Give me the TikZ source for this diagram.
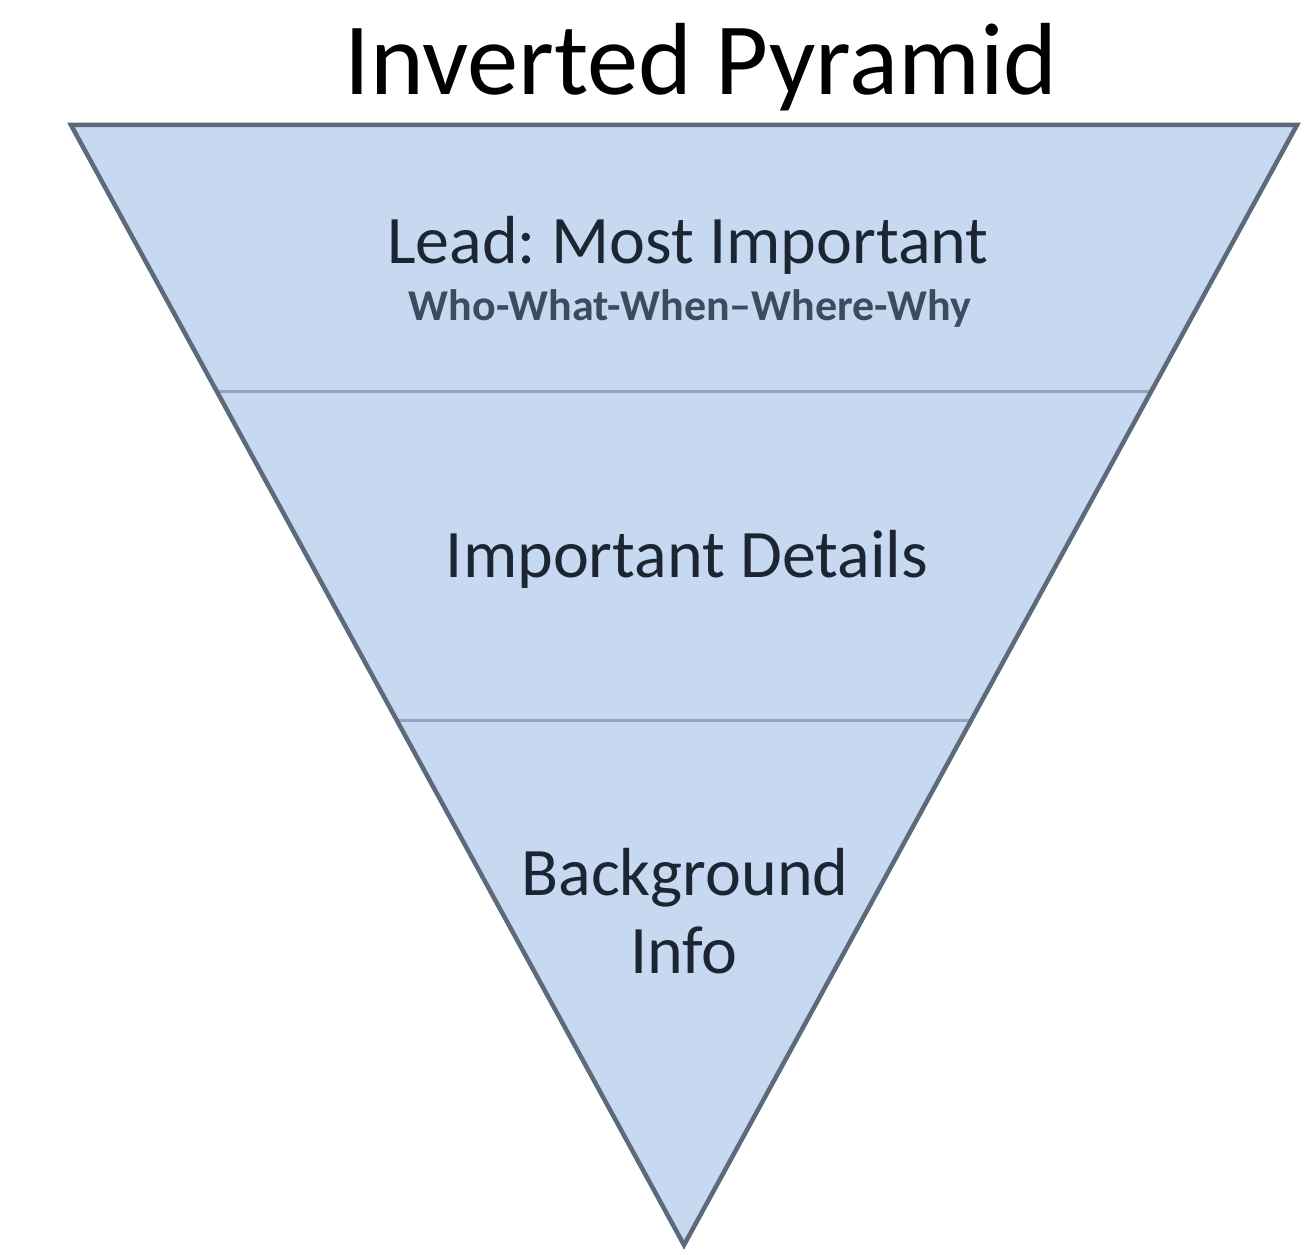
\documentclass[tikz,border=0pt]{standalone}
\usepackage{fontspec}
\setmainfont{Carlito}
\usepackage{tikz}
\usetikzlibrary{calc}
\frenchspacing

\definecolor{layerfill}{HTML}{C6D9F0}
\definecolor{layeredge}{HTML}{5B6B7B}
\definecolor{layerline}{HTML}{8EA5C3}
\definecolor{labeltext}{HTML}{1C2633}
\definecolor{subtext}{HTML}{3C4B5F}

\tikzset{
  pyramid/.style={fill=layerfill, draw=layeredge, line width=4.5pt, line join=miter},
  divider/.style={draw=layerline, line width=3pt},
  layerlabel/.style={anchor=base, inner sep=0pt, text=labeltext, font=\fontsize{68}{80}\selectfont},
  sublabel/.style={anchor=base, inner sep=0pt, text=subtext, font=\bfseries\fontsize{44}{50}\selectfont},
}

\begin{document}
\begin{tikzpicture}[x=1pt, y=-1pt]
% Fix the page to the reference size
\useasboundingbox (0, 0) rectangle (1304, 1252);
% Corners of the upside-down triangle
\coordinate (topleft) at (71, 125);
\coordinate (topright) at (1297, 125);
\coordinate (tip) at (684, 1245);
% Fill the triangle
\fill[layerfill] (topleft) -- (topright) -- (tip) -- cycle;
% Lines between the three layers
\draw[divider] ($(topleft)!0.2375!(tip)$) -- ($(topright)!0.2375!(tip)$);
\draw[divider] ($(topleft)!0.53125!(tip)$) -- ($(topright)!0.53125!(tip)$);
% Outline on top
\draw[pyramid, fill=none] (topleft) -- (topright) -- (tip) -- cycle;
% Title above the triangle
\node[anchor=base, inner sep=0pt, font=\fontsize{102.5}{120}\selectfont] (title) at (701, 95) {Inverted Pyramid};
% Top layer
\node[layerlabel] (lead) at (688, 263) {Lead: Most Important};
\node[sublabel] (who) at (690, 320) {Who-What-When--Where-Why};
% Middle layer
\node[layerlabel] (details) at (687, 577) {Important Details};
% Bottom layer
\node[layerlabel] (background) at (685, 895) {Background};
\node[layerlabel] (info) at (684, 973) {Info};
\end{tikzpicture}
\end{document}
